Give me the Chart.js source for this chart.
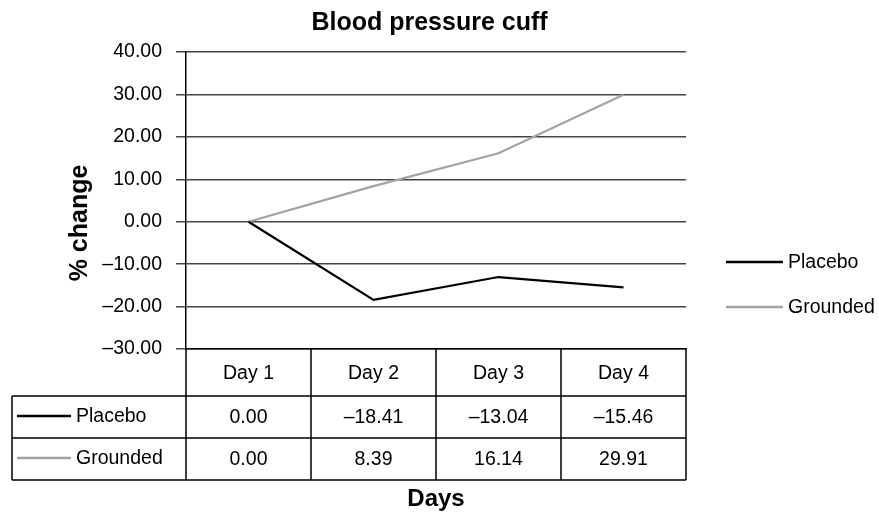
<!DOCTYPE html>
<html>
<head>
<meta charset="utf-8">
<script src="https://cdn.jsdelivr.net/npm/chart.js@4"></script>
<style>
  body { margin: 0; background: #fff; }
</style>
</head>
<body>
<canvas id="bpChart" width="879" height="515"></canvas>
<script>
const days = ["Day 1", "Day 2", "Day 3", "Day 4"];
const seriesNames = ["Placebo", "Grounded"];
const placebo = [0.0, -18.41, -13.04, -15.46];
const grounded = [0.0, 8.39, 16.14, 29.91];
const seriesColors = ["#000000", "#a3a3a3"];
const yMin = -30;
const yMax = 40;
const yStep = 10;

const FONT = "'Liberation Sans', Arial, sans-serif";

// excel-style numbers with an en dash for minus
const fmt = (v) => Number(v).toFixed(2).replace("-", "\u2013");

const tablePlugin = {
  id: "dataTable",
  afterDraw(chart) {
    const { ctx, chartArea, scales } = chart;
    const x = scales.x;
    const step = x.getPixelForValue(1) - x.getPixelForValue(0);
    const top = chartArea.bottom;
    const headerH = 47;
    const rowH = 42;
    const tableLeft = 12;
    const left = chartArea.left;
    const right = chartArea.right;
    const rows = [placebo, grounded];
    const bottom = top + headerH + rowH * rows.length;

    ctx.save();
    ctx.strokeStyle = "#000";
    ctx.lineWidth = 1.5;
    ctx.beginPath();
    // horizontal lines (top edge is the x axis border)
    for (let r = 0; r <= rows.length; r++) {
      const y = top + headerH + r * rowH;
      ctx.moveTo(tableLeft, y); ctx.lineTo(right, y);
    }
    // vertical lines
    ctx.moveTo(tableLeft, top + headerH); ctx.lineTo(tableLeft, bottom);
    ctx.moveTo(left, top); ctx.lineTo(left, bottom);
    days.forEach((d, i) => {
      const xr = x.getPixelForValue(i) + step / 2;
      ctx.moveTo(xr, top); ctx.lineTo(xr, bottom);
    });
    ctx.stroke();

    ctx.fillStyle = "#000";
    ctx.font = "19.5px " + FONT;
    ctx.textAlign = "center";
    ctx.textBaseline = "middle";
    days.forEach((d, i) => {
      ctx.fillText(d, x.getPixelForValue(i), top + headerH / 2 + 1);
    });
    rows.forEach((vals, r) => {
      const cy = top + headerH + r * rowH + rowH / 2;
      vals.forEach((v, i) => ctx.fillText(fmt(v), x.getPixelForValue(i), cy + 1));
      // legend key in row header
      ctx.strokeStyle = seriesColors[r];
      ctx.lineWidth = 2.5;
      ctx.beginPath();
      ctx.moveTo(17, cy - 1); ctx.lineTo(71, cy - 1);
      ctx.stroke();
      ctx.textAlign = "left";
      ctx.fillText(seriesNames[r], 76, cy);
      ctx.textAlign = "center";
    });

    // legend on the right
    ctx.textAlign = "left";
    seriesNames.forEach((name, r) => {
      const ly = 262 + r * 45;
      const lx = chartArea.right + 40;
      ctx.strokeStyle = seriesColors[r];
      ctx.lineWidth = 2.5;
      ctx.beginPath();
      ctx.moveTo(lx, ly); ctx.lineTo(lx + 57, ly);
      ctx.stroke();
      ctx.fillText(name, lx + 62, ly + 1);
    });

    // y axis title
    ctx.font = "bold 25px " + FONT;
    ctx.translate(80, 223);
    ctx.rotate(-Math.PI / 2);
    ctx.textAlign = "center";
    ctx.fillText("% change", 0, 0);
    ctx.restore();
  },
};

new Chart(document.getElementById("bpChart").getContext("2d"), {
  type: "line",
  data: {
    labels: days,
    datasets: [
      {
        label: seriesNames[0],
        data: placebo,
        borderColor: seriesColors[0],
        borderWidth: 2.2,
        pointRadius: 0,
        tension: 0,
      },
      {
        label: seriesNames[1],
        data: grounded,
        borderColor: seriesColors[1],
        borderWidth: 2.2,
        pointRadius: 0,
        tension: 0,
      },
    ],
  },
  options: {
    responsive: false,
    animation: false,
    layout: { padding: { left: 0, right: 20, top: 0, bottom: 0 } },
    plugins: {
      legend: { display: false },
      tooltip: { enabled: false },
      title: {
        display: true,
        text: "Blood pressure cuff",
        color: "#000",
        font: { family: FONT, size: 25, weight: "bold", lineHeight: 1.2 },
        padding: { top: 8.5, bottom: 13.5 },
      },
    },
    scales: {
      x: {
        type: "category",
        offset: true,
        grid: { display: false },
        border: { display: true, color: "#000", width: 1.5 },
        ticks: { display: false },
        title: {
          display: true,
          text: "Days",
          color: "#000",
          font: { family: FONT, size: 24, weight: "bold", lineHeight: 1.2 },
          padding: { top: 0, bottom: 1 },
        },
        afterFit(scale) { scale.height = 166; },
      },
      y: {
        min: yMin,
        max: yMax,
        position: "left",
        grid: { color: "#444", lineWidth: 1.5, tickLength: 10, drawTicks: true },
        border: { display: true, color: "#000", width: 1.5 },
        ticks: {
          stepSize: yStep,
          padding: 14,
          color: "#000",
          font: { family: FONT, size: 19.5 },
          callback: (v) => fmt(v),
        },
        afterFit(scale) { scale.width = 186; },
      },
      spacer: {
        type: "linear",
        position: "right",
        display: true,
        grid: { display: false },
        border: { display: false },
        ticks: { display: false },
        afterFit(scale) { scale.width = 173; },
      },
    },
  },
  plugins: [tablePlugin],
});
</script>
</body>
</html>
